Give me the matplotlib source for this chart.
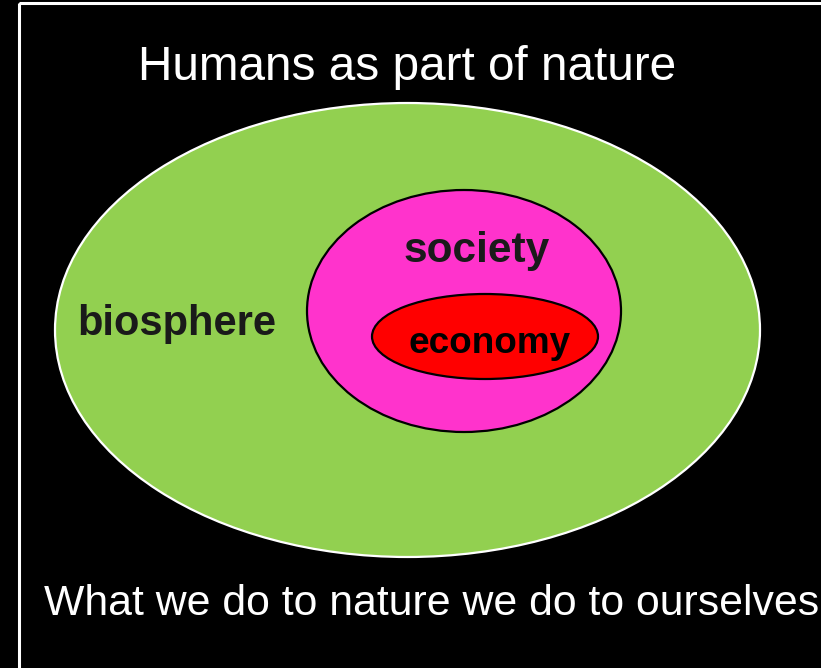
import matplotlib
matplotlib.use("Agg")
import matplotlib.pyplot as plt
from matplotlib.patches import Ellipse, Rectangle

# Diagram content
title = "Humans as part of nature"
subtitle = "What we do to nature we do to ourselves"
layers = ["biosphere", "society", "economy"]
layer_colors = ["#92d050", "#ff33cc", "#ff0000"]
edge_colors = ["white", "black", "black"]

# Geometry (pixel coordinates, y downward)
ell_centers = [(407.5, 330), (464, 311), (485, 336.5)]
ell_sizes = [(705, 454), (314, 242), (226, 85)]
label_pos = [(177, 335), (477, 262), (489.5, 353)]
label_sizes = [30, 30.5, 26.6]
label_colors = ["#1a1a1a", "#1a1a1a", "black"]

W, H = 821, 668
fig = plt.figure(figsize=(W / 100, H / 100), dpi=100, facecolor="black")
ax = fig.add_axes([0, 0, 1, 1])
ax.set_xlim(0, W)
ax.set_ylim(H, 0)
ax.set_facecolor("black")
ax.axis("off")

ax.add_patch(Rectangle((19, 3), W + 50, H + 50, fill=False, edgecolor="white", lw=2.2))

for (c, s, fc, ec) in zip(ell_centers, ell_sizes, layer_colors, edge_colors):
    ax.add_patch(Ellipse(c, s[0], s[1], facecolor=fc, edgecolor=ec, lw=1.6))

fam = ["Liberation Sans", "DejaVu Sans"]
for name, (x, y), fs, col in zip(layers, label_pos, label_sizes, label_colors):
    ax.text(x, y, name, ha="center", va="baseline", fontsize=fs, fontweight="bold",
            color=col, family=fam)

ax.text(407, 80, title, ha="center", va="baseline", fontsize=34.4, color="white", family=fam)
ax.text(431.5, 615, subtitle, ha="center", va="baseline", fontsize=30.8, color="white", family=fam)

fig.savefig("out.png", dpi=100, facecolor="black")
